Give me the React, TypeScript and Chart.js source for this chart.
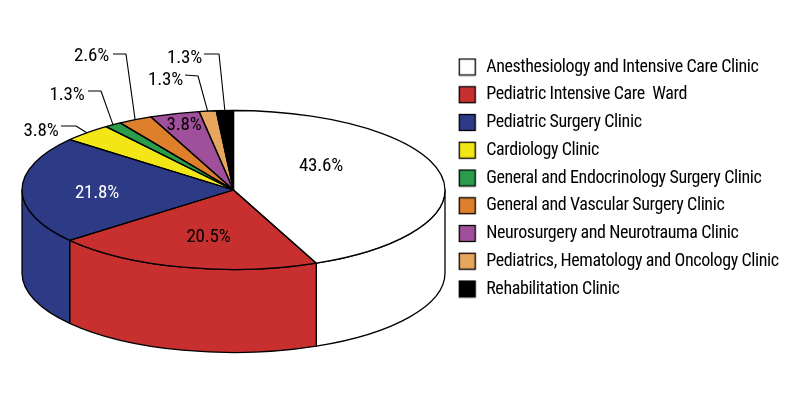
import React, { useEffect, useRef } from "react";
import { Chart, registerables } from "chart.js";

Chart.register(...registerables);

const categories = [
  "Anesthesiology and Intensive Care Clinic",
  "Pediatric Intensive Care  Ward",
  "Pediatric Surgery Clinic",
  "Cardiology Clinic",
  "General and Endocrinology Surgery Clinic",
  "General and Vascular Surgery Clinic",
  "Neurosurgery and Neurotrauma Clinic",
  "Pediatrics, Hematology and Oncology Clinic",
  "Rehabilitation Clinic",
];
const shares = [43.6, 20.5, 21.8, 3.8, 1.3, 2.6, 3.8, 1.3, 1.3];
const colors = ["#ffffff", "#c8302f", "#2d3a86", "#f2e616", "#2a9c4c", "#de7f2b", "#a04f9b", "#e6a65d", "#000000"];

const FONT = "'Roboto Condensed', 'Open Sans', sans-serif";
const LEGEND_SIZE = 18;
const LEGEND_TRACKING = "-0.4px";
const LABEL_SIZE = 19;
const LABEL_TRACKING = "-0.2px";
const TILT = { cx: 233.5, cy: 190, rx: 211.5, ry: 79.5, depth: 83 };

// Label anchor (centre of text) per slice; leader = start and bend of the leader line
const labelPlacement: { x: number; y: number; color?: string; leader?: [number, number, number, number] }[] = [
  { x: 321, y: 166 },
  { x: 208.5, y: 237 },
  { x: 97, y: 193, color: "#ffffff" },
  { x: 41, y: 131, leader: [61, 126, 76, 126] },
  { x: 67, y: 95, leader: [88, 91, 101, 91] },
  { x: 91.5, y: 56, leader: [113, 54, 126, 54] },
  { x: 184, y: 125 },
  { x: 165.5, y: 80, leader: [185, 75, 198, 76] },
  { x: 184.5, y: 58, leader: [204, 54, 219, 54] },
];

function swatch(color: string) {
  const c = document.createElement("canvas");
  c.width = 19;
  c.height = 19;
  const g = c.getContext("2d") as CanvasRenderingContext2D;
  g.fillStyle = color;
  g.fillRect(1.5, 1.5, 16, 16);
  g.strokeStyle = "#000";
  g.lineWidth = 1.3;
  g.strokeRect(1.5, 1.5, 16, 16);
  return c;
}

const tiltedPie = {
  id: "tiltedPie",
  beforeLayout(chart: any) {
    chart.ctx.letterSpacing = LEGEND_TRACKING;
  },
  beforeDraw(chart: any) {
    chart.ctx.letterSpacing = LEGEND_TRACKING;
  },
  beforeDatasetsDraw(chart: any) {
    const { ctx } = chart;
    const arcs = chart.getDatasetMeta(0).data;
    const { cx, cy, rx, ry, depth } = TILT;
    ctx.save();
    ctx.lineWidth = 1.3;
    ctx.strokeStyle = "#000";
    ctx.lineJoin = "round";
    arcs.forEach((arc: any) => {
      const a0 = Math.max(arc.startAngle, 0);
      const a1 = Math.min(arc.endAngle, Math.PI);
      if (a1 <= a0) return;
      ctx.beginPath();
      ctx.ellipse(cx, cy, rx, ry, 0, a0, a1);
      ctx.ellipse(cx, cy + depth, rx, ry, 0, a1, a0, true);
      ctx.closePath();
      ctx.fillStyle = arc.options.backgroundColor;
      ctx.fill();
      ctx.stroke();
    });
    ctx.restore();
  },
  beforeDatasetDraw(chart: any) {
    const { ctx } = chart;
    const arc = chart.getDatasetMeta(0).data[0];
    const r = arc.outerRadius;
    ctx.save();
    ctx.translate(TILT.cx, TILT.cy);
    ctx.scale(TILT.rx / r, TILT.ry / r);
    ctx.translate(-arc.x, -arc.y);
  },
  afterDatasetDraw(chart: any) {
    chart.ctx.restore();
  },
  afterDatasetsDraw(chart: any) {
    const { ctx } = chart;
    const arcs = chart.getDatasetMeta(0).data;
    const { cx, cy, rx, ry } = TILT;
    ctx.save();
    ctx.lineWidth = 1.3;
    ctx.strokeStyle = "#000";
    ctx.lineJoin = "round";
    arcs.forEach((arc: any) => {
      ctx.beginPath();
      ctx.moveTo(cx, cy);
      ctx.ellipse(cx, cy, rx, ry, 0, arc.startAngle, arc.endAngle);
      ctx.closePath();
      ctx.stroke();
    });
    ctx.font = `${LABEL_SIZE}px ${FONT}`;
    ctx.letterSpacing = LABEL_TRACKING;
    ctx.textAlign = "center";
    ctx.textBaseline = "middle";
    arcs.forEach((arc: any, i: number) => {
      const p = labelPlacement[i];
      if (p.leader) {
        const mid = (arc.startAngle + arc.endAngle) / 2;
        ctx.beginPath();
        ctx.moveTo(p.leader[0], p.leader[1]);
        ctx.lineTo(p.leader[2], p.leader[3]);
        ctx.lineTo(cx + rx * Math.cos(mid), cy + ry * Math.sin(mid));
        ctx.lineWidth = 1.1;
        ctx.stroke();
      }
      ctx.fillStyle = p.color || "#000";
      ctx.fillText(`${shares[i].toFixed(1)}%`, p.x, p.y);
    });
    ctx.restore();
  },
};

export default function App() {
  const ref = useRef<HTMLCanvasElement>(null);
  useEffect(() => {
    const chart = new Chart(ref.current as HTMLCanvasElement, {
      type: "pie",
      data: {
        labels: categories,
        datasets: [{ data: shares, backgroundColor: colors, borderWidth: 0, clip: false } as any],
      },
      plugins: [tiltedPie as any],
      options: {
        responsive: false,
        animation: false,
        layout: { padding: { top: 0, bottom: 44, right: 11.25, left: 0 } },
        plugins: {
          tooltip: { enabled: false },
          legend: {
            position: "right",
            labels: {
              usePointStyle: true,
              pointStyleWidth: 20,
              boxHeight: 16,
              padding: 9.75,
              color: "#000",
              font: { family: FONT, size: LEGEND_SIZE },
              generateLabels: () =>
                categories.map((text, i) => ({
                  text,
                  fillStyle: colors[i],
                  strokeStyle: "#000",
                  lineWidth: 1.3,
                  pointStyle: swatch(colors[i]),
                  index: i,
                  hidden: false,
                })),
            },
          },
        },
      },
    });
    return () => chart.destroy();
  }, []);
  return (
    <canvas
      ref={ref}
      width={800}
      height={400}
      style={{ position: "absolute", left: 0, top: 0, display: "block", background: "#fff" }}
    />
  );
}
